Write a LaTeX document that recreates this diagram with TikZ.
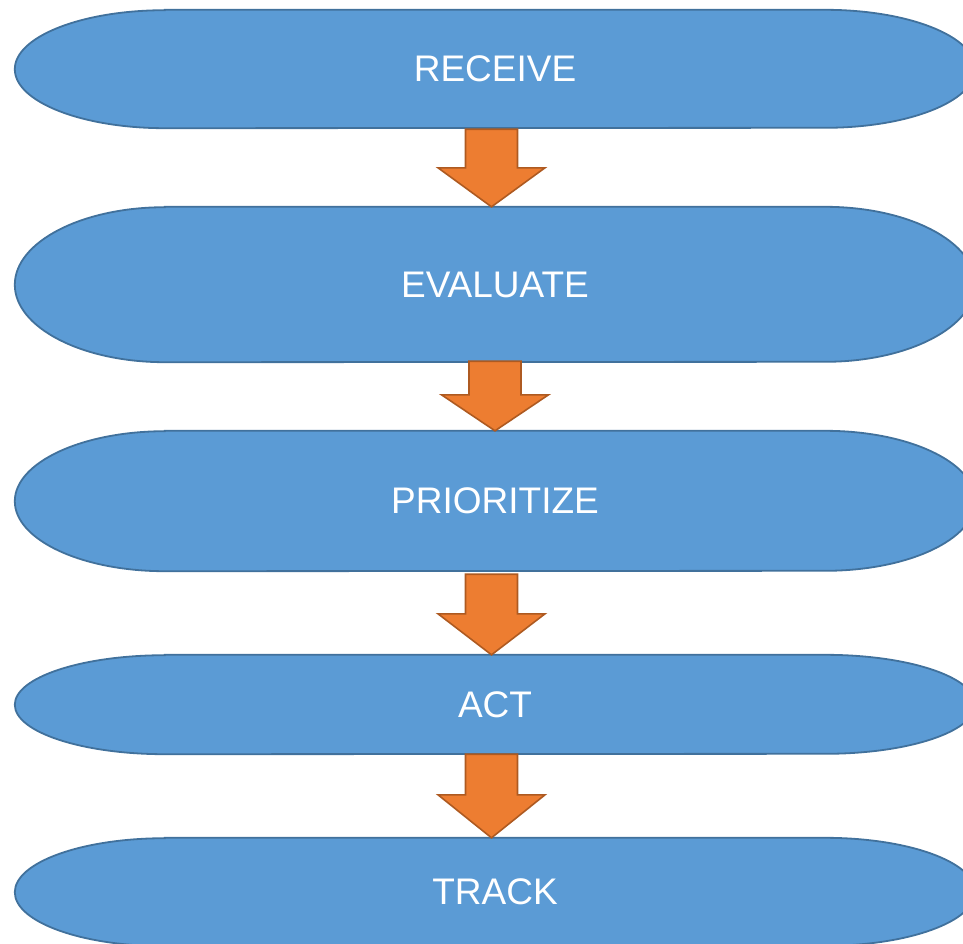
\documentclass[tikz,border=0pt]{standalone}
\usepackage{fontspec}
\setmainfont{Liberation Sans}
\usetikzlibrary{calc,backgrounds}
\definecolor{stagefillc}{HTML}{5B9BD5}
\definecolor{stagedrawc}{HTML}{41719C}
\definecolor{arrowfillc}{HTML}{ED7D31}
\definecolor{arrowdrawc}{HTML}{AE5A21}
\tikzset{
  stagebox/.style={draw=none, inner sep=0pt, minimum width=960pt, text=white,
    font=\fontsize{37pt}{40pt}\selectfont},
  stageshape/.style={fill=stagefillc, draw=stagedrawc, line width=1.8pt},
  blockarrow/.style={fill=arrowfillc, draw=arrowdrawc, line width=1.6pt, line join=miter},
}
\newcommand\stadium[2]{%
  \path[stageshape] ([xshift=150pt]#1.north west) -- ([xshift=-150pt]#1.north east)
    arc[start angle=90, end angle=-90, x radius=150pt, y radius=#2]
    -- ([xshift=150pt]#1.south west)
    arc[start angle=270, end angle=90, x radius=150pt, y radius=#2] -- cycle;}
\newcommand\flowarrow[5]{%
  \path[blockarrow] let \p1=([xshift=#3]#1.south), \p2=([xshift=#3]#2.north) in
    (\x1-26pt,\y1-#5) -- (\x1+26pt,\y1-#5) -- (\x1+26pt,\y2+#4) -- (\x1+53.5pt,\y2+#4)
    -- (\x2,\y2) -- (\x1-53.5pt,\y2+#4) -- (\x1-26pt,\y2+#4) -- cycle;}
\begin{document}
\begin{tikzpicture}
\useasboundingbox (0pt,0pt) rectangle (963pt,-943pt);
\clip (0pt,0pt) rectangle (963pt,-943pt);
\node[stagebox, minimum height=118pt] (s1) at (495pt,-69pt) {\raisebox{-1.5pt}{RECEIVE}};
\node[stagebox, minimum height=155pt] (s2) at (495pt,-284.5pt) {\raisebox{-1.5pt}{EVALUATE}};
\node[stagebox, minimum height=140pt] (s3) at (495pt,-501pt) {\raisebox{-1.5pt}{PRIORITIZE}};
\node[stagebox, minimum height=99pt] (s4) at (495pt,-704.5pt) {\raisebox{-1.5pt}{ACT}};
\node[stagebox, minimum height=108pt] (s5) at (495pt,-892pt) {\raisebox{-1.5pt}{TRACK}};
\begin{pgfonlayer}{background}
\stadium{s1}{59pt}
\stadium{s2}{77.5pt}
\stadium{s3}{70pt}
\stadium{s4}{49.5pt}
\stadium{s5}{54pt}
\end{pgfonlayer}
\flowarrow{s1}{s2}{-3.5pt}{39pt}{1pt}
\flowarrow{s2}{s3}{0pt}{36pt}{-1pt}
\flowarrow{s3}{s4}{-3.5pt}{41pt}{3pt}
\flowarrow{s4}{s5}{-3.5pt}{43pt}{0pt}
\end{tikzpicture}
\end{document}
